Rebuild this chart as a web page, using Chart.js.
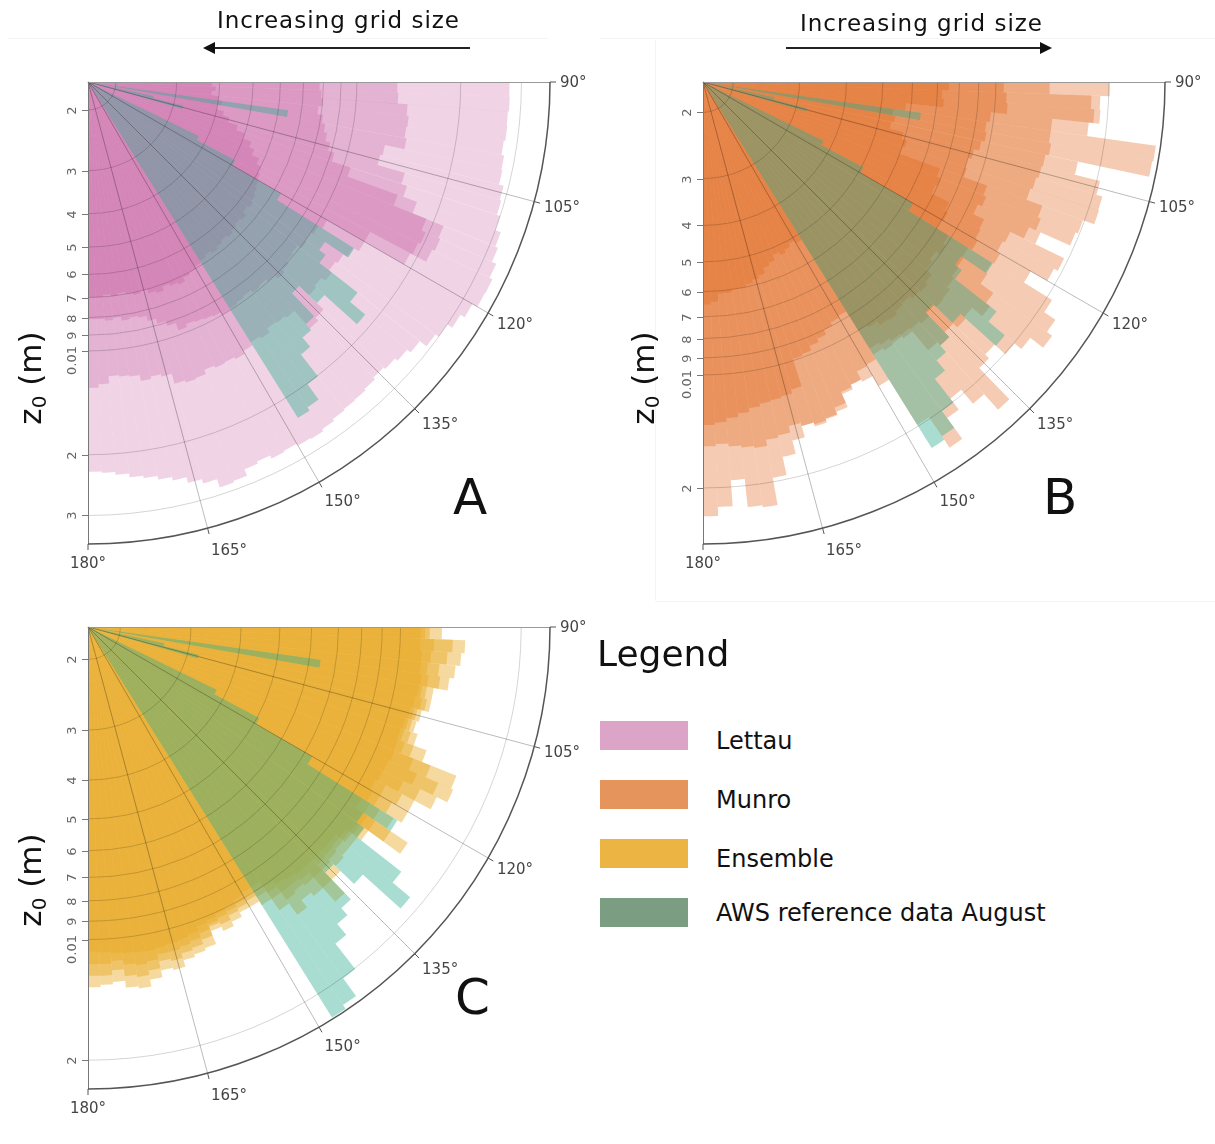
<!DOCTYPE html>
<html>
<head>
<meta charset="utf-8">
<script src="https://cdn.jsdelivr.net/npm/chart.js@4.4.1/dist/chart.umd.min.js"></script>
<style>
  html, body { margin: 0; padding: 0; background: #fff; }
  body { width: 1215px; height: 1144px; position: relative; overflow: hidden;
         font-family: "DejaVu Sans", Verdana, sans-serif; color: #111; }
  canvas.polar { position: absolute; }
  .title { position: absolute; font-family: "DejaVu Sans", sans-serif;
           font-size: 23px; letter-spacing: 1px; line-height: 26px; white-space: nowrap; }
  .ylab { position: absolute; width: 120px; height: 40px; line-height: 40px; text-align: center;
          font-size: 31px; transform: rotate(-90deg); white-space: nowrap; }
  .ylab sub { font-size: 20px; vertical-align: -5px; }
  .panel { position: absolute; font-size: 50px; line-height: 50px; }
  .legend-title { position: absolute; left: 597px; top: 634px; font-size: 36px; line-height: 40px; }
  .swatch { position: absolute; left: 600px; width: 88px; height: 29px; }
  .item { position: absolute; left: 716px; font-size: 24px; line-height: 30px; white-space: nowrap; }
  .faint { position: absolute; background: #f4f4f4; }
</style>
</head>
<body>

<div class="faint" style="left:8px; top:38px; width:540px; height:1px;"></div>
<div class="faint" style="left:600px; top:38px; width:615px; height:1px;"></div>
<div class="faint" style="left:655px; top:40px; width:1px; height:560px;"></div>
<div class="faint" style="left:655px; top:601px; width:560px; height:1px;"></div>

<canvas id="chartA" class="polar" width="1084" height="1084" style="left:-454px; top:-460px;"></canvas>
<canvas id="chartB" class="polar" width="1084" height="1084" style="left:161px; top:-460px;"></canvas>
<canvas id="chartC" class="polar" width="1084" height="1084" style="left:-454px; top:85px;"></canvas>

<div class="title" style="left:217px; top:7px;">Increasing grid size</div>
<div class="title" style="left:800px; top:10px;">Increasing grid size</div>
<svg style="position:absolute; left:0; top:0;" width="1215" height="60">
  <line x1="470" y1="48" x2="213" y2="48" stroke="#222" stroke-width="2"/>
  <polygon points="203,48 215,42 215,54" fill="#111"/>
  <line x1="786" y1="48" x2="1042" y2="48" stroke="#222" stroke-width="2"/>
  <polygon points="1052,48 1040,42 1040,54" fill="#111"/>
</svg>

<div class="ylab" style="left:-30px; top:358px;">z<sub>0</sub> (m)</div>
<div class="ylab" style="left:583px; top:358px;">z<sub>0</sub> (m)</div>
<div class="ylab" style="left:-30px; top:860px;">z<sub>0</sub> (m)</div>

<div class="panel" style="left:453px; top:472px;">A</div>
<div class="panel" style="left:1043px; top:472px;">B</div>
<div class="panel" style="left:455px; top:972px;">C</div>

<div class="legend-title">Legend</div>
<div class="swatch" style="top:721px; background:#dca5c8;"></div>
<div class="swatch" style="top:780px; background:#e5955c;"></div>
<div class="swatch" style="top:839px; background:#ebb443;"></div>
<div class="swatch" style="top:898px; background:#7b9e82;"></div>
<div class="item" style="top:726px;">Lettau</div>
<div class="item" style="top:785px;">Munro</div>
<div class="item" style="top:844px;">Ensemble</div>
<div class="item" style="top:898px;">AWS reference data August</div>

<script>
// wind direction bins (start of each 2 degree sector)
const directionBins = [90, 92, 94, 96, 98, 100, 102, 104, 106, 108,
  110, 112, 114, 116, 118, 120, 122, 124, 126, 128,
  130, 132, 134, 136, 138, 140, 142, 144, 146, 148,
  150, 152, 154, 156, 158, 160, 162, 164, 166, 168,
  170, 172, 174, 176, 178];
const binWidth = 2;

// z0 (m) per sector, one array per grid size
const lettau1 = [0.0277, 0.0278, 0.0276, 0.0277, 0.0274, 0.0279, 0.0281, 0.0290, 0.0293, 0.0300,
  0.0312, 0.0318, 0.0328, 0.0335, 0.0334, 0.0322, 0.0312, 0.0300, 0.0292, 0.0276,
  0.0268, 0.0262, 0.0258, 0.0262, 0.0265, 0.0266, 0.0268, 0.0272, 0.0276, 0.0274,
  0.0270, 0.0272, 0.0266, 0.0270, 0.0283, 0.0286, 0.0270, 0.0262, 0.0252, 0.0246,
  0.0240, 0.0236, 0.0230, 0.0226, 0.0224];
const lettau2 = [0.0131, 0.0132, 0.0141, 0.0143, 0.0142, 0.0144, 0.0126, 0.0124, 0.0150, 0.0156,
  0.0172, 0.0215, 0.0218, 0.0214, 0.0190, 0.0140, 0.0134, 0.0130, 0.0128, 0.0131,
  0.0127, 0.0129, 0.0148, 0.0152, 0.0130, 0.0128, 0.0127, 0.0131, 0.0129, 0.0132,
  0.0135, 0.0133, 0.0134, 0.0132, 0.0136, 0.0137, 0.0135, 0.0126, 0.0124, 0.0126,
  0.0121, 0.0120, 0.0119, 0.0125, 0.0128];
const lettau3 = [0.0078, 0.0079, 0.0080, 0.0078, 0.0081, 0.0083, 0.0085, 0.0088, 0.0092, 0.0105,
  0.0150, 0.0190, 0.0196, 0.0193, 0.0140, 0.0105, 0.0102, 0.0100, 0.0101, 0.0098,
  0.0099, 0.0101, 0.0103, 0.0100, 0.0098, 0.0099, 0.0097, 0.0098, 0.0099, 0.0100,
  0.0098, 0.0097, 0.0096, 0.0095, 0.0097, 0.0092, 0.0089, 0.0086, 0.0083, 0.0082,
  0.0083, 0.0081, 0.0082, 0.0081, 0.0081];
const lettau4 = [0.0038, 0.0039, 0.0038, 0.0040, 0.0041, 0.0040, 0.0042, 0.0044, 0.0047, 0.0050,
  0.0053, 0.0055, 0.0058, 0.0060, 0.0061, 0.0062, 0.0063, 0.0064, 0.0065, 0.0064,
  0.0066, 0.0065, 0.0066, 0.0067, 0.0066, 0.0067, 0.0068, 0.0067, 0.0068, 0.0069,
  0.0070, 0.0071, 0.0073, 0.0072, 0.0071, 0.0073, 0.0072, 0.0070, 0.0071, 0.0070,
  0.0069, 0.0070, 0.0069, 0.0070, 0.0070];

const munro1 = [0.0201, 0.0190, 0.0191, 0.0179, 0.0274, 0.0272, 0.0174, 0.0204, 0.0212, 0.0213,
  0.0198, 0.0195, 0.0160, 0.0195, 0.0190, 0.0169, 0.0207, 0.0225, 0.0234, 0.0212,
  0.0201, 0.0184, 0.0190, 0.0248, 0.0218, 0.0195, 0.0212, 0.0248, 0.0198, 0.0143,
  0.0133, 0.0131, 0.0135, 0.0143, 0.0149, 0.0151, 0.0149, 0.0160, 0.0174, 0.0195,
  0.0231, 0.0228, 0.0192, 0.0225, 0.0238];
const munro2 = [0.0139, 0.0180, 0.0184, 0.0143, 0.0143, 0.0145, 0.0142, 0.0141, 0.0139, 0.0137,
  0.0152, 0.0155, 0.0148, 0.0135, 0.0133, 0.0136, 0.0134, 0.0136, 0.0150, 0.0155,
  0.0143, 0.0145, 0.0140, 0.0146, 0.0142, 0.0122, 0.0120, 0.0121, 0.0119, 0.0123,
  0.0124, 0.0131, 0.0133, 0.0147, 0.0150, 0.0153, 0.0149, 0.0146, 0.0152, 0.0154,
  0.0160, 0.0158, 0.0156, 0.0153, 0.0155];
const munro3 = [0.0105, 0.0107, 0.0108, 0.0098, 0.0096, 0.0097, 0.0095, 0.0092, 0.0090, 0.0091,
  0.0106, 0.0108, 0.0105, 0.0113, 0.0114, 0.0116, 0.0113, 0.0114, 0.0115, 0.0117,
  0.0120, 0.0121, 0.0119, 0.0122, 0.0120, 0.0119, 0.0118, 0.0116, 0.0114, 0.0087,
  0.0088, 0.0090, 0.0093, 0.0095, 0.0098, 0.0099, 0.0118, 0.0121, 0.0122, 0.0123,
  0.0125, 0.0128, 0.0131, 0.0134, 0.0136];
const munro4 = [0.0075, 0.0072, 0.0073, 0.0058, 0.0054, 0.0055, 0.0054, 0.0059, 0.0061, 0.0060,
  0.0078, 0.0080, 0.0079, 0.0089, 0.0091, 0.0090, 0.0098, 0.0100, 0.0097, 0.0099,
  0.0104, 0.0106, 0.0105, 0.0103, 0.0104, 0.0106, 0.0105, 0.0102, 0.0100, 0.0052,
  0.0051, 0.0052, 0.0053, 0.0052, 0.0054, 0.0055, 0.0057, 0.0058, 0.0059, 0.0060,
  0.0060, 0.0061, 0.0061, 0.0064, 0.0065];

const ensemble1 = [0.01268, 0.01452, 0.01425, 0.01388, 0.01352, 0.01248, 0.01248, 0.01199, 0.01183, 0.01216,
  0.01316, 0.01628, 0.01650, 0.01543, 0.01388, 0.01388, 0.01316, 0.01523, 0.01216, 0.01183,
  0.01183, 0.01199, 0.01248, 0.01388, 0.01248, 0.01216, 0.01282, 0.01183, 0.01093, 0.01064,
  0.01064, 0.01093, 0.01123, 0.01093, 0.01183, 0.01199, 0.01216, 0.01265, 0.01248, 0.01299,
  0.01352, 0.01334, 0.01282, 0.01299, 0.01316];
const ensemble2 = [0.01183, 0.01352, 0.01316, 0.01265, 0.01282, 0.01199, 0.01216, 0.01168, 0.01153, 0.01168,
  0.01216, 0.01388, 0.01503, 0.01388, 0.01282, 0.01248, 0.01199, 0.01352, 0.01183, 0.01137,
  0.01123, 0.01137, 0.01153, 0.01248, 0.01153, 0.01137, 0.01153, 0.01093, 0.01036, 0.01023,
  0.01036, 0.01050, 0.01079, 0.01064, 0.01123, 0.01153, 0.01168, 0.01199, 0.01183, 0.01232,
  0.01265, 0.01248, 0.01199, 0.01232, 0.01232];
const ensemble3 = [0.01153, 0.01216, 0.01199, 0.01183, 0.01199, 0.01168, 0.01183, 0.01147, 0.01129, 0.01123,
  0.01153, 0.01248, 0.01316, 0.01248, 0.01153, 0.01153, 0.01123, 0.01216, 0.01147, 0.01117,
  0.01093, 0.01099, 0.01108, 0.01153, 0.01108, 0.01093, 0.01093, 0.01050, 0.01004, 0.00996,
  0.01009, 0.01023, 0.01036, 0.01050, 0.01079, 0.01108, 0.01123, 0.01137, 0.01137, 0.01168,
  0.01183, 0.01168, 0.01137, 0.01153, 0.01153];
const ensemble4 = [0.01123, 0.01123, 0.01137, 0.01137, 0.01153, 0.01147, 0.01137, 0.01123, 0.01108, 0.01099,
  0.01104, 0.01110, 0.01099, 0.01093, 0.01079, 0.01099, 0.01064, 0.01153, 0.01123, 0.01093,
  0.01064, 0.01064, 0.01064, 0.01064, 0.01064, 0.01050, 0.01036, 0.01009, 0.00970, 0.00970,
  0.00983, 0.00996, 0.01009, 0.01023, 0.01036, 0.01064, 0.01079, 0.01087, 0.01093, 0.01102,
  0.01099, 0.01093, 0.01087, 0.01079, 0.01073];

const awsAugust = [null, null, null, null, 0.0064, null, 0.0026, 0.0032, null, null,
  null, null, null, 0.00378, 0.00506, 0.00735, 0.0135, 0.0112, 0.0118, 0.0163,
  0.0186, 0.0139, 0.0118, 0.0146, 0.0154, 0.0167, 0.0201, 0.0228, 0.0234, null,
  null, null, null, null, null, null, null, null, null, null,
  null, null, null, null, null];

// axes
const rangeA = [0.00166, 0.0363];
const rangeB = [0.00166, 0.0282];
const rangeC = [0.00166, 0.0236];
const tickValuesA = [0.002, 0.003, 0.004, 0.005, 0.006, 0.007, 0.008, 0.009, 0.01, 0.02, 0.03];
const tickLabelsA = ['2', '3', '4', '5', '6', '7', '8', '9', '0.01', '2', '3'];
const tickValuesBC = [0.002, 0.003, 0.004, 0.005, 0.006, 0.007, 0.008, 0.009, 0.01, 0.02];
const tickLabelsBC = ['2', '3', '4', '5', '6', '7', '8', '9', '0.01', '2'];
const angleTicks = [90, 105, 120, 135, 150, 165, 180];
const angleLabels = ['90°', '105°', '120°', '135°', '150°', '165°', '180°'];

const AWS_COLOR = 'rgba(50, 175, 145, 0.42)';

// grid, axis lines and labels for the 90-180 degree quadrant
const polarFrame = {
  id: 'polarFrame',
  afterDatasetsDraw(chart, args, opts) {
    const scale = chart.scales.r;
    const ctx = chart.ctx;
    const cx = scale.xCenter, cy = scale.yCenter, R = scale.drawingArea;
    const logMin = Math.log10(opts.range[0]);
    const radiusOf = v => scale.getDistanceFromCenterForValue(Math.log10(v) - logMin);
    const toXY = (bearing, r) => {
      const a = (bearing - 90) * Math.PI / 180;
      return [cx + r * Math.cos(a), cy + r * Math.sin(a)];
    };

    ctx.save();
    ctx.lineWidth = 1;
    ctx.strokeStyle = 'rgba(0,0,0,0.17)';
    opts.ticks.forEach(v => {
      ctx.beginPath();
      ctx.arc(cx, cy, radiusOf(v), 0, Math.PI / 2);
      ctx.stroke();
    });

    ctx.strokeStyle = 'rgba(0,0,0,0.27)';
    angleTicks.forEach(b => {
      if (b === 90 || b === 180) return;
      const p = toXY(b, R);
      ctx.beginPath();
      ctx.moveTo(cx, cy);
      ctx.lineTo(p[0], p[1]);
      ctx.stroke();
    });

    ctx.strokeStyle = '#999';
    ctx.beginPath();
    ctx.moveTo(cx, cy + 0.5);
    ctx.lineTo(cx + R, cy + 0.5);
    ctx.stroke();
    ctx.strokeStyle = '#777';
    ctx.beginPath();
    ctx.moveTo(cx + 0.5, cy);
    ctx.lineTo(cx + 0.5, cy + R);
    ctx.stroke();

    ctx.strokeStyle = '#555';
    ctx.lineWidth = 1.5;
    ctx.beginPath();
    ctx.arc(cx, cy, R, 0, Math.PI / 2);
    ctx.stroke();

    ctx.lineWidth = 1;
    angleTicks.forEach(b => {
      const p1 = toXY(b, R), p2 = toXY(b, R + 6);
      ctx.beginPath();
      ctx.moveTo(p1[0], p1[1]);
      ctx.lineTo(p2[0], p2[1]);
      ctx.stroke();
    });

    // angular labels sit to the lower right of each tick
    ctx.fillStyle = '#444';
    ctx.font = '15px "DejaVu Sans"';
    ctx.textBaseline = 'middle';
    angleTicks.forEach((b, i) => {
      const a = (b - 90) * Math.PI / 180;
      const p = toXY(b, R);
      if (b === 180) {
        ctx.textAlign = 'center';
        ctx.fillText(angleLabels[i], p[0], p[1] + 20);
      } else {
        ctx.textAlign = 'left';
        ctx.fillText(angleLabels[i], p[0] + 1 + 9 * Math.cos(a), p[1] + 3 + 21 * Math.sin(a) - 2 * Math.cos(a));
      }
    });

    ctx.font = '13px "DejaVu Sans"';
    ctx.fillStyle = '#666';
    ctx.strokeStyle = '#777';
    opts.ticks.forEach((v, i) => {
      const y = Math.round(cy + radiusOf(v)) + 0.5;
      ctx.beginPath();
      ctx.moveTo(cx - 6, y);
      ctx.lineTo(cx, y);
      ctx.stroke();
      const shift = opts.labels[i].length > 1 ? 9 : 0;
      ctx.save();
      ctx.translate(cx - 9, y + shift);
      ctx.rotate(-Math.PI / 2);
      ctx.textAlign = 'center';
      ctx.textBaseline = 'bottom';
      ctx.fillText(opts.labels[i], 0, 0);
      ctx.restore();
    });
    ctx.restore();
  }
};

function makeRose(id, layers, layerColor, range, tickValues, tickLabels) {
  const logMin = Math.log10(range[0]);
  const toRadial = arr => arr.map(v => (v == null ? 0 : Math.log10(v) - logMin));
  const datasets = [{ label: 'AWS reference data August', data: toRadial(awsAugust),
                      backgroundColor: AWS_COLOR, order: 0, angle: binWidth, borderWidth: 0 }];
  layers.forEach((layer, i) => {
    datasets.push({ label: 'grid ' + (i + 1), data: toRadial(layer),
                    backgroundColor: layerColor, order: 1, angle: binWidth, borderWidth: 0 });
  });
  return new Chart(id, {
    type: 'polarArea',
    data: { labels: directionBins.map(b => b + '–' + (b + binWidth) + '°'), datasets: datasets },
    options: {
      responsive: false,
      animation: false,
      layout: { padding: 80 },
      elements: { arc: { borderWidth: 0, angle: binWidth } },
      plugins: {
        legend: { display: false },
        tooltip: { enabled: false },
        polarFrame: { range: range, ticks: tickValues, labels: tickLabels }
      },
      scales: {
        r: {
          min: 0,
          max: Math.log10(range[1]) - logMin,
          startAngle: 90,
          ticks: { display: false },
          grid: { display: false },
          angleLines: { display: false },
          pointLabels: { display: false }
        }
      }
    },
    plugins: [polarFrame]
  });
}

makeRose('chartA', [lettau1, lettau2, lettau3, lettau4], 'rgba(190, 70, 145, 0.23)',
         rangeA, tickValuesA, tickLabelsA);
makeRose('chartB', [munro1, munro2, munro3, munro4], 'rgba(225, 100, 25, 0.33)',
         rangeB, tickValuesBC, tickLabelsBC);
makeRose('chartC', [ensemble1, ensemble2, ensemble3, ensemble4], 'rgba(233, 170, 40, 0.45)',
         rangeC, tickValuesBC, tickLabelsBC);
</script>
</body>
</html>
